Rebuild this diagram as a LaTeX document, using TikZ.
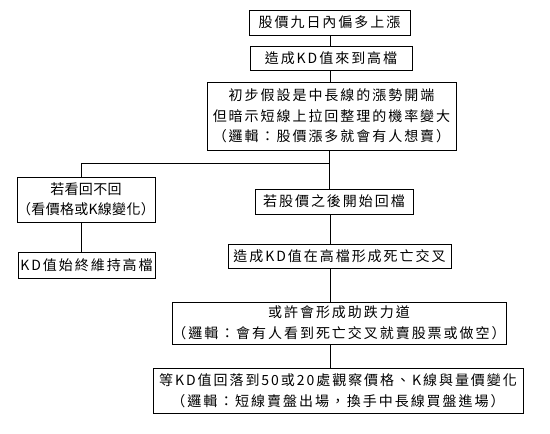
\documentclass[tikz,border=0pt]{standalone}
\usepackage{fontspec}
\newfontfamily\cjk[LetterSpace=14]{Noto Sans CJK TC}
\newfontfamily\cjkjunto[LetterSpace=2]{Noto Sans CJK TC}
\begin{document}
\begin{tikzpicture}[x=1pt,y=-1pt]
		% formatos
		\tikzstyle{caja} = [draw, line width=0.8pt, align=center, inner sep=0pt,
			font=\cjk\fontsize{14}{20.5}\selectfont]
		\tikzstyle{linea} = [line width=0.8pt]
		\useasboundingbox (0,0) rectangle (550,434);
		\coordinate (eje) at (330,0);
		\coordinate (ejeizq) at (81,0);
		\coordinate (rama) at (329,163);
		% nodos
		\node [caja, minimum width=161, minimum height=25] (b1) at (329.5,22.5)
{股價九日內偏多上漲};
		\node [caja, minimum width=162, minimum height=24] (b2) at (331,58)
{造成KD值來到高檔};
		\node [caja, minimum width=249, minimum height=68] (b3) at (331.5,116)
{初步假設是中長線的漲勢開端\\但暗示短線上拉回整理的機率變大\\（邏輯：股價漲多就會有人想賣）};
		\node [caja, minimum width=138, minimum height=45,
			font=\cjkjunto\fontsize{14}{20.5}\selectfont] (l1) at (86,199.5)
{若看回不回\\（看價格或K線變化）};
		\node [caja, minimum width=137, minimum height=26] (l2) at (86.5,265)
{KD值始終維持高檔};
		\node [caja, minimum width=158, minimum height=25] (r1) at (334,201.5)
{若股價之後開始回檔};
		\node [caja, minimum width=223, minimum height=24] (r2) at (339.5,256)
{造成KD值在高檔形成死亡交叉};
		\node [caja, minimum width=334, minimum height=42] (r3) at (339,323)
{或許會形成助跌力道\\（邏輯：會有人看到死亡交叉就賣股票或做空）};
		\node [caja, minimum width=370, minimum height=45] (r4) at (338,390.5)
{等KD值回落到50或20處觀察價格、K線與量價變化\\（邏輯：短線賣盤出場，換手中長線買盤進場）};
		% relaciones
		\draw [linea] (b1.south -| eje) -- (b2.north -| eje);
		\draw [linea] (b2.south -| eje) -- (b3.north -| eje);
		\draw [linea] (b3.south -| rama) -- (r1.north -| rama);
		\draw [linea] (rama) -| (l1.north -| ejeizq);
		\draw [linea] (l1.south -| ejeizq) -- (l2.north -| ejeizq);
		\draw [linea] (r1.south -| eje) -- (r2.north -| eje);
		\draw [linea] (r2.south -| eje) -- (r3.north -| eje);
		\draw [linea] (r3.south -| eje) -- (r4.north -| eje);
	\end{tikzpicture}
\end{document}
